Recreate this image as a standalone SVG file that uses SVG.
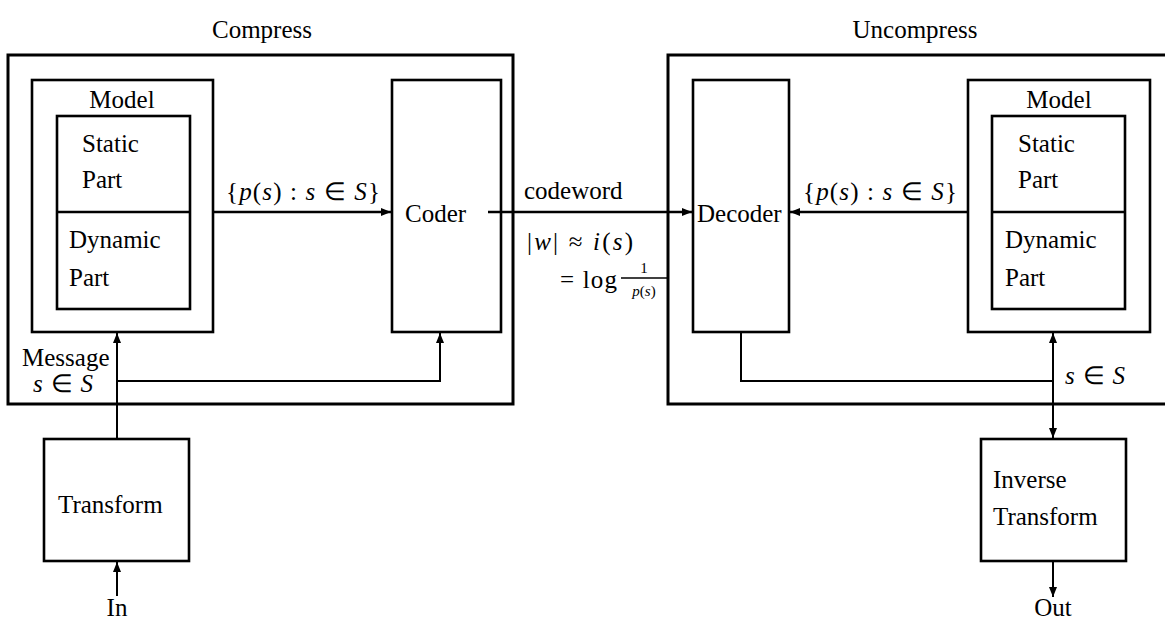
<svg xmlns="http://www.w3.org/2000/svg" width="1165" height="621" viewBox="0 0 1165 621">
<defs>
<style>
text{font-family:"Liberation Serif","Times New Roman",serif;font-size:25px;fill:#000}
.m{font-style:italic}
.box{fill:none;stroke:#000;stroke-width:2.6}
.outer{fill:none;stroke:#000;stroke-width:3}
.ln{fill:none;stroke:#000;stroke-width:2.6}
.thin{fill:none;stroke:#000;stroke-width:2}
</style>
<marker id="ah" viewBox="0 0 10 8" refX="10" refY="4" markerWidth="10" markerHeight="8" markerUnits="userSpaceOnUse" orient="auto">
<path d="M0,0 L10,4 L0,8 Z" fill="#000"/>
</marker>
</defs>
<rect width="1165" height="621" fill="#fff"/>
<text x="262" y="38" text-anchor="middle">Compress</text>
<text x="915" y="38" text-anchor="middle">Uncompress</text>
<g id="compress">
<rect class="outer" x="8" y="55" width="505" height="349"/>
</g>
<g id="uncompress">
<path class="outer" d="M1166,55 H668 V404 H1166"/>
</g>
<g id="model-left">
<rect class="box" x="32" y="80" width="181" height="252"/>
<text x="122" y="108" text-anchor="middle">Model</text>
<rect class="box" x="57" y="116" width="133" height="193"/>
<line class="box" x1="57" y1="212" x2="190" y2="212"/>
<text x="82" y="152">Static</text>
<text x="82" y="188">Part</text>
<text x="69" y="248">Dynamic</text>
<text x="69" y="286">Part</text>
</g>
<g id="coder">
<rect class="box" x="392" y="80" width="109" height="252"/>
<text x="405" y="222">Coder</text>
</g>
<g id="decoder">
<rect class="box" x="693" y="80" width="96" height="252"/>
<text x="697" y="222">Decoder</text>
</g>
<g id="model-right">
<rect class="box" x="968" y="80" width="182" height="252"/>
<text x="1059" y="108" text-anchor="middle">Model</text>
<rect class="box" x="992" y="116" width="133" height="193"/>
<line class="box" x1="992" y1="212" x2="1125" y2="212"/>
<text x="1018" y="152">Static</text>
<text x="1018" y="188">Part</text>
<text x="1005" y="248">Dynamic</text>
<text x="1005" y="286">Part</text>
</g>
<g id="transform">
<rect class="box" x="44" y="439" width="145" height="122"/>
<text x="58" y="513">Transform</text>
</g>
<g id="inverse-transform">
<rect class="box" x="981" y="439" width="145" height="122"/>
<text x="993" y="488">Inverse</text>
<text x="993" y="525">Transform</text>
</g>
<g id="connectors">
<line class="ln" x1="213" y1="212" x2="391" y2="212" marker-end="url(#ah)"/>
<line class="ln" x1="488" y1="212" x2="692" y2="212" marker-end="url(#ah)"/>
<line class="ln" x1="968" y1="212" x2="790" y2="212" marker-end="url(#ah)"/>
<line class="thin" x1="117" y1="439" x2="117" y2="333" marker-end="url(#ah)"/>
<polyline class="thin" points="117,381 440,381 440,333" marker-end="url(#ah)"/>
<polyline class="thin" points="741,332 741,381 1053,381"/>
<line class="thin" x1="1053" y1="381" x2="1053" y2="333" marker-end="url(#ah)"/>
<line class="thin" x1="1053" y1="381" x2="1053" y2="438" marker-end="url(#ah)"/>
<line class="thin" x1="117" y1="596" x2="117" y2="562" marker-end="url(#ah)"/>
<line class="thin" x1="1053" y1="561" x2="1053" y2="597" marker-end="url(#ah)"/>
</g>
<g id="labels">
<text x="226" y="200" textLength="154" lengthAdjust="spacing">{<tspan class="m">p</tspan>(<tspan class="m">s</tspan>) : <tspan class="m">s</tspan> ∈ <tspan class="m">S</tspan>}</text>
<text x="803" y="200" textLength="154" lengthAdjust="spacing">{<tspan class="m">p</tspan>(<tspan class="m">s</tspan>) : <tspan class="m">s</tspan> ∈ <tspan class="m">S</tspan>}</text>
<text x="524" y="199">codeword</text>
<text x="527" y="250" textLength="106" lengthAdjust="spacing">|<tspan class="m">w</tspan>| ≈ <tspan class="m">i</tspan>(<tspan class="m">s</tspan>)</text>
<text x="560" y="288" textLength="57" lengthAdjust="spacing">= log</text>
<text x="644" y="273" text-anchor="middle" style="font-size:15px">1</text>
<line x1="621" y1="278" x2="668" y2="278" stroke="#000" stroke-width="1.5"/>
<text x="644" y="296" text-anchor="middle" style="font-size:15px"><tspan class="m">p</tspan>(<tspan class="m">s</tspan>)</text>
<text x="22" y="366">Message</text>
<text x="33" y="392" textLength="60" lengthAdjust="spacing"><tspan class="m">s</tspan> ∈ <tspan class="m">S</tspan></text>
<text x="1065" y="384" textLength="60" lengthAdjust="spacing"><tspan class="m">s</tspan> ∈ <tspan class="m">S</tspan></text>
<text x="117" y="616" text-anchor="middle">In</text>
<text x="1053" y="616" text-anchor="middle">Out</text>
</g>
</svg>
